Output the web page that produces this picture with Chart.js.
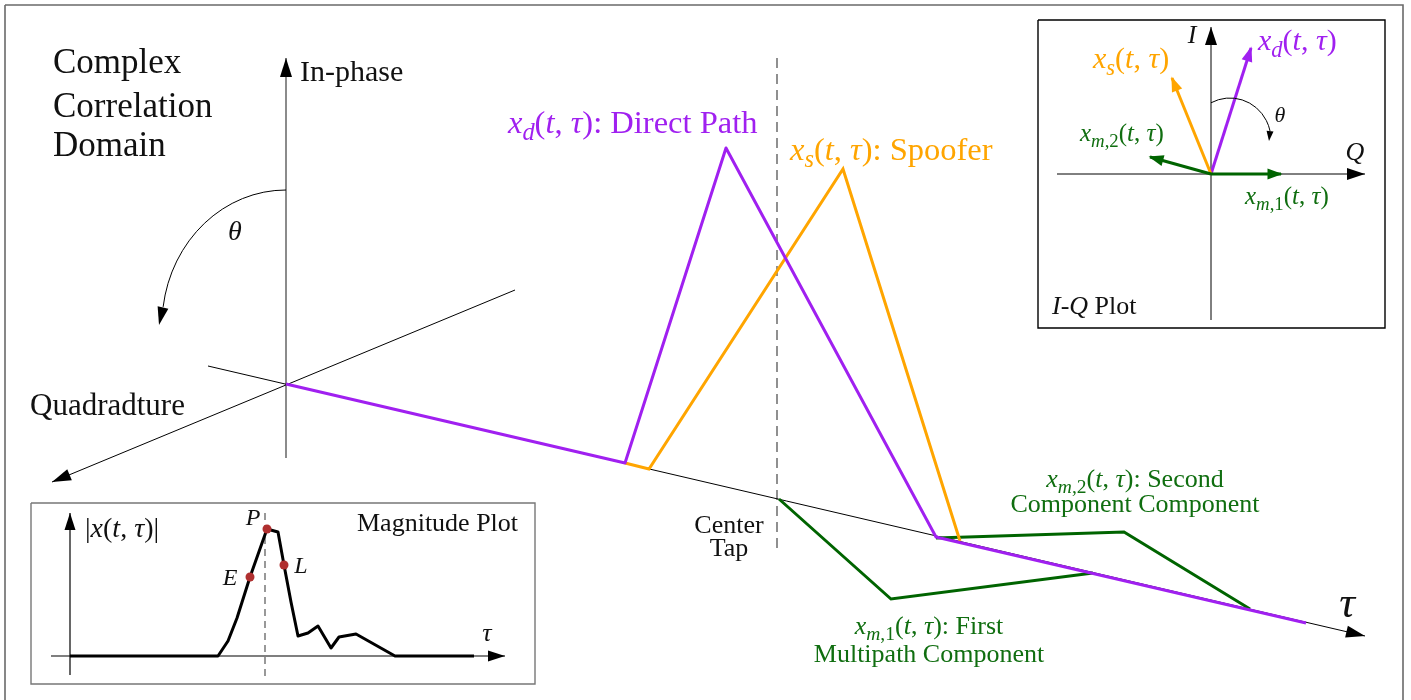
<!DOCTYPE html>
<html><head><meta charset="utf-8">
<script src="https://cdn.jsdelivr.net/npm/chart.js@4/dist/chart.umd.min.js"></script>
<style>html,body{margin:0;padding:0;background:#fff;overflow:hidden}#wrap{width:1411px;height:700px}</style>
</head><body><div id="wrap"><canvas id="c" width="1411" height="700"></canvas></div>
<script>
// ---------- diagram data (diagram coordinates, x right, y down) ----------
const outerFrame   = [[5,5],[1403,5],[1403,720],[5,720],[5,5]];
const inPhaseAxis  = [[286,458],[286,58]];
const quadAxis     = [[515,290],[52,482]];
const tauAxis      = [[208,366],[1365,636]];
const centerTap    = [[777,58],[777,552]];
const directPath   = [[286,384],[625,463],[726,148],[936,537],[1306,623]];
const spooferPath  = [[625,463],[649,469],[843,169],[960,541]];
const multipath1   = [[779,499],[891,599],[1093,573]];
const multipath2   = [[936,538],[1124,532],[1250,609]];

const iqBox        = [[1038,20],[1385,20],[1385,328],[1038,328],[1038,20]];
const iqQAxis      = [[1057,174],[1365,174]];
const iqIAxis      = [[1211,320],[1211,27]];
const iqDirect     = [[1211,174],[1251,48]];
const iqSpoofer    = [[1211,174],[1172,78]];
const iqMulti2     = [[1211,174],[1150,157]];
const iqMulti1     = [[1211,174],[1281,174]];

const magBox       = [[31,503],[535,503],[535,684],[31,684],[31,503]];
const magTauAxis   = [[51,656],[505,656]];
const magYAxis     = [[70,675],[70,513]];
const magCenter    = [[265,513],[265,678]];
const magCurve     = [[70,656],[218,656],[228,641],[237,618],[250,577],[267,529],[278,532],
                      [284,565],[291,602],[298,636],[308,633],[318,626],[331,648],[339,637],
                      [356,634],[395,656],[474,656]];
const magDots      = [[250,577],[267,529],[284,565]];

// angle arcs: centre, radii, start/end angle (deg)
const thetaArcs = [
  {c:[286,325], r:[124,135], a0:-90, a1:-172.3, ccw:true, tip:[159,325], w:1, head:[18,11]},
  {c:[1230,140], r:[41,42], a0:-117.6, a1:-12.4, ccw:false, tip:[1269,141], w:1, head:[10,7]}
];

// text labels: segments ('*' italic, '_' italic subscript, '~' roman subscript)
const labelTexts = {
  complex:['Complex'], correlation:['Correlation'], domain:['Domain'],
  inphase:['In-phase'], quad:['Quadradture'], theta:['*θ'],
  direct:['*x','_d','(','*t',', ','*τ','): Direct Path'],
  spoofer:['*x','_s','(','*t',', ','*τ','): Spoofer'],
  center:['Center'], tap:['Tap'],
  m2a:['*x','_m','~,2','(','*t',', ','*τ','): Second'], m2b:['Component Component'],
  m1a:['*x','_m','~,1','(','*t',', ','*τ','): First'], m1b:['Multipath Component'],
  tau:['*τ'],
  iqI:['*I'], iqQ:['*Q'],
  iqD:['*x','_d','(','*t',', ','*τ',')'], iqS:['*x','_s','(','*t',', ','*τ',')'],
  iqM2:['*x','_m','~,2','(','*t',', ','*τ',')'], iqM1:['*x','_m','~,1','(','*t',', ','*τ',')'],
  iqTheta:['*θ'], iqTitle:['*I','-','*Q',' Plot'],
  magY:['|','*x','(','*t',', ','*τ',')|'], magP:['*P'], magE:['*E'], magL:['*L'],
  magTitle:['Magnitude Plot'], magTau:['*τ']
};

const PURPLE='#A020F0', ORANGE='#FFA500', GREEN='#006400', GTEXT='#106e10';

const labels = [
  {k:'complex', at:[53,73], s:35, c:'#111', a:'left'},
  {k:'correlation', at:[53,117], s:35, c:'#111', a:'left'},
  {k:'domain', at:[53,156], s:35, c:'#111', a:'left'},
  {k:'inphase', at:[300,81], s:30, c:'#111', a:'left'},
  {k:'quad', at:[30,415], s:31, c:'#111', a:'left'},
  {k:'theta', at:[235,240], s:28, c:'#111', a:'center'},
  {k:'direct', at:[508,133], s:32.5, c:PURPLE, a:'left'},
  {k:'spoofer', at:[790,160], s:32.5, c:ORANGE, a:'left'},
  {k:'center', at:[729,533], s:26, c:'#111', a:'center'},
  {k:'tap', at:[729,556], s:26, c:'#111', a:'center'},
  {k:'m2a', at:[1135,487], s:26, c:GTEXT, a:'center'},
  {k:'m2b', at:[1135,512], s:26, c:GTEXT, a:'center'},
  {k:'m1a', at:[929,634], s:26, c:GTEXT, a:'center'},
  {k:'m1b', at:[929,662], s:26, c:GTEXT, a:'center'},
  {k:'tau', at:[1347,617], s:44, c:'#111', a:'center'},
  {k:'iqI', at:[1192,43], s:26, c:'#111', a:'center'},
  {k:'iqQ', at:[1355,160], s:26, c:'#111', a:'center'},
  {k:'iqD', at:[1258,50], s:30, c:PURPLE, a:'left'},
  {k:'iqS', at:[1093,68], s:30, c:ORANGE, a:'left'},
  {k:'iqM2', at:[1080,141], s:25, c:GTEXT, a:'left'},
  {k:'iqM1', at:[1245,204], s:25, c:GTEXT, a:'left'},
  {k:'iqTheta', at:[1280,122], s:22, c:'#111', a:'center'},
  {k:'iqTitle', at:[1052,314], s:26, c:'#111', a:'left'},
  {k:'magY', at:[85,537], s:28, c:'#111', a:'left'},
  {k:'magP', at:[253,525], s:24, c:'#111', a:'center'},
  {k:'magE', at:[230,585], s:24, c:'#111', a:'center'},
  {k:'magL', at:[301,573], s:24, c:'#111', a:'center'},
  {k:'magTitle', at:[357,531], s:26, c:'#111', a:'left'},
  {k:'magTau', at:[487,641], s:26, c:'#111', a:'center'}
];

// ---------- chart ----------
const P = a => a.map(([x,y]) => ({x, y}));
function line(data, color, width, extra) {
  return Object.assign({data:P(data), showLine:true, borderColor:color, backgroundColor:color,
    borderWidth:width, pointRadius:0, fill:false, tension:0, borderCapStyle:'butt', borderJoinStyle:'miter'}, extra||{});
}
const datasets = [
  line(magDots, '#b03030', 0, {showLine:false, pointRadius:4.5, pointBackgroundColor:'#b03030', pointBorderWidth:0, order:0}),
  line(iqMulti1, GREEN, 3, {arrow:[15,11], order:1}),
  line(iqMulti2, GREEN, 3, {arrow:[15,11], order:1}),
  line(iqSpoofer, ORANGE, 3, {arrow:[15,11], order:1}),
  line(iqDirect, PURPLE, 3, {arrow:[15,11], order:1}),
  line(directPath, PURPLE, 3, {order:2, borderJoinStyle:'round'}),
  line(spooferPath, ORANGE, 3, {order:3}),
  line(multipath1, GREEN, 3, {order:4}),
  line(multipath2, GREEN, 3, {order:4}),
  line(magCurve, '#000', 3, {order:3, borderJoinStyle:'round'}),
  line(tauAxis, '#000', 1, {arrow:[19,12], order:6}),
  line(quadAxis, '#000', 1, {arrow:[19,12], order:6}),
  line(inPhaseAxis, '#6e6e6e', 1.6, {arrow:[19,12], arrowColor:'#000', order:6}),
  line(centerTap, '#555', 1.3, {borderDash:[10,6], order:6}),
  line(iqQAxis, '#000', 1, {arrow:[18,12], order:6}),
  line(iqIAxis, '#000', 1, {arrow:[18,12], order:6}),
  line(magTauAxis, '#000', 1.2, {arrow:[17,11], order:6}),
  line(magYAxis, '#000', 1.2, {arrow:[17,11], order:6}),
  line(magCenter, '#555', 1.2, {borderDash:[7,5], order:6}),
  line(iqBox, '#000', 1.4, {order:7}),
  line(magBox, '#777', 1.4, {order:7}),
  line(outerFrame, '#6a6a6a', 1.6, {order:7})
];

function head(ctx, tip, from, len, w, color, ext) {
  const dx = tip[0]-from[0], dy = tip[1]-from[1], L = Math.hypot(dx,dy);
  const ux = dx/L, uy = dy/L;
  const tx = tip[0]+ux*(ext||0), ty = tip[1]+uy*(ext||0);
  const bx = tx-ux*len, by = ty-uy*len;
  ctx.beginPath();
  ctx.moveTo(tx,ty);
  ctx.lineTo(bx - uy*w/2, by + ux*w/2);
  ctx.lineTo(bx + uy*w/2, by - ux*w/2);
  ctx.closePath();
  ctx.fillStyle = color; ctx.fill();
}

const arrowPlugin = {
  id:'arrows',
  afterDatasetsDraw(chart) {
    const ctx = chart.ctx, xs = chart.scales.x, ys = chart.scales.y;
    const px = p => [xs.getPixelForValue(p.x), ys.getPixelForValue(p.y)];
    ctx.save();
    chart.data.datasets.forEach(ds => {
      if (!ds.arrow) return;
      const n = ds.data.length;
      const tip = px(ds.data[n-1]), from = px(ds.data[n-2]);
      head(ctx, tip, from, ds.arrow[0], ds.arrow[1], ds.arrowColor || ds.borderColor, ds.borderWidth > 2 ? 1.5 : 0);
    });
    thetaArcs.forEach(a => {
      const cx = xs.getPixelForValue(a.c[0]), cy = ys.getPixelForValue(a.c[1]);
      const rx = Math.abs(xs.getPixelForValue(a.c[0]+a.r[0]) - cx);
      const ry = Math.abs(ys.getPixelForValue(a.c[1]+a.r[1]) - cy);
      const a0 = a.a0*Math.PI/180, a1 = a.a1*Math.PI/180;
      ctx.beginPath();
      ctx.ellipse(cx, cy, rx, ry, 0, a0, a1, a.ccw);
      ctx.strokeStyle = '#000'; ctx.lineWidth = a.w; ctx.stroke();
      const end = [cx + rx*Math.cos(a1), cy + ry*Math.sin(a1)];
      const tip = [xs.getPixelForValue(a.tip[0]), ys.getPixelForValue(a.tip[1])];
      head(ctx, tip, end, a.head[0], a.head[1], '#000', 0);
    });
    ctx.restore();
  }
};

const FONT = '"Liberation Serif", "Times New Roman", serif';
function drawRich(ctx, segs, x, y, size, color, align) {
  const parts = segs.map(s => {
    let style = '', sz = size, dy = 0, t = s;
    if (s[0] === '*') { style = 'italic '; t = s.slice(1); }
    else if (s[0] === '_') { style = 'italic '; sz = size*0.75; dy = size*0.22; t = s.slice(1); }
    else if (s[0] === '~') { sz = size*0.75; dy = size*0.22; t = s.slice(1); }
    return {t, font: style + sz.toFixed(1) + 'px ' + FONT, dy};
  });
  let w = 0;
  parts.forEach(p => { ctx.font = p.font; p.w = ctx.measureText(p.t).width; w += p.w; });
  let cx = align === 'center' ? x - w/2 : align === 'right' ? x - w : x;
  ctx.fillStyle = color; ctx.textAlign = 'left'; ctx.textBaseline = 'alphabetic';
  parts.forEach(p => { ctx.font = p.font; ctx.fillText(p.t, cx, y + p.dy); cx += p.w; });
}
const textPlugin = {
  id:'texts',
  afterDraw(chart) {
    const ctx = chart.ctx, xs = chart.scales.x, ys = chart.scales.y;
    ctx.save();
    labels.forEach(l => drawRich(ctx, labelTexts[l.k], xs.getPixelForValue(l.at[0]), ys.getPixelForValue(l.at[1]), l.s, l.c, l.a));
    ctx.restore();
  }
};

new Chart(document.getElementById('c'), {
  type:'scatter',
  data:{datasets},
  options:{
    responsive:false, animation:false, devicePixelRatio:1,
    layout:{padding:0, autoPadding:false},
    plugins:{legend:{display:false}, tooltip:{enabled:false}, title:{display:false}},
    scales:{
      x:{type:'linear', min:0, max:1411, display:false},
      y:{type:'linear', min:0, max:700, reverse:true, display:false}
    },
    elements:{point:{radius:0}, line:{tension:0}}
  },
  plugins:[arrowPlugin, textPlugin]
});
</script>
</body></html>
